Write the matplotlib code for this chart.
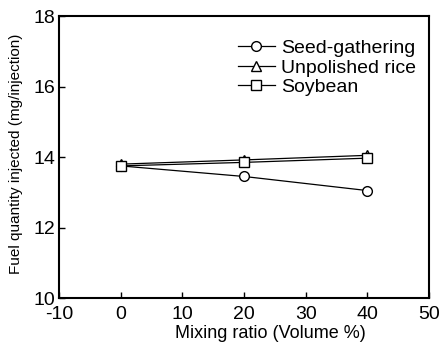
import matplotlib
matplotlib.use('Agg')
import matplotlib.pyplot as plt

# Datos
mezcla = [0, 20, 40]
seed_gathering = [13.75, 13.45, 13.05]
unpolished_rice = [13.80, 13.92, 14.05]
soybean = [13.75, 13.85, 13.97]

plt.rcParams['font.family'] = ['Liberation Sans', 'DejaVu Sans']
plt.rcParams['axes.unicode_minus'] = False

fig = plt.figure(figsize=(4.41, 3.43), dpi=100)
ax = fig.add_axes([0.134, 0.131, 0.839, 0.822])

estilo = dict(color='black', lw=0.9, markersize=7, markerfacecolor='white',
              markeredgecolor='black', markeredgewidth=1.0)
ax.plot(mezcla, seed_gathering, marker='o', label='Seed-gathering', **estilo)
ax.plot(mezcla, unpolished_rice, marker='^', label='Unpolished rice', **estilo)
ax.plot(mezcla, soybean, marker='s', label='Soybean', **estilo)

ax.set_xlim(-10, 50)
ax.set_ylim(10, 18)
ax.set_xticks(range(-10, 51, 10))
ax.set_yticks(range(10, 19, 2))
ax.tick_params(direction='in', length=4, width=1, labelsize=14)
ax.tick_params(axis='x', pad=6)
ax.tick_params(axis='y', pad=3)
for s in ax.spines.values():
    s.set_linewidth(1.5)

ax.set_xlabel('Mixing ratio (Volume %)', fontsize=13)
ax.xaxis.set_label_coords(0.57, -0.094)
ax.set_ylabel('Fuel quantity injected (mg/injection)', fontsize=11)
ax.yaxis.set_label_coords(-0.097, 0.51)

ax.legend(loc='upper right', frameon=False, fontsize=14, handlelength=1.9,
          handletextpad=0.3, labelspacing=0.1, borderaxespad=0.0,
          bbox_to_anchor=(0.985, 0.945))

fig.savefig('out.png', dpi=100)
